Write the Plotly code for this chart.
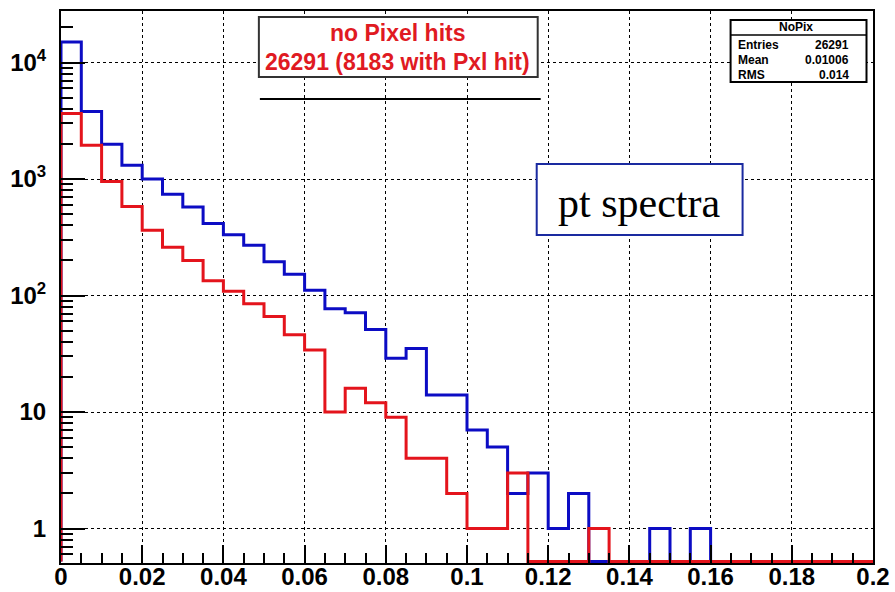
import math
import plotly.graph_objects as go

# ---------------- data ----------------
bin_width = 0.005
n_bins = 40
bin_edges = [round(i * bin_width, 3) for i in range(n_bins + 1)]

blue_counts = [15000, 3800, 1990, 1310, 1000, 740, 575, 415, 333, 270,
               195, 152, 111, 77, 71, 51, 29, 35, 14, 14,
               7, 5, 2, 3, 1, 2, 0, 0, 0, 1,
               0, 1, 0, 0, 0, 0, 0, 0, 0, 0]
red_counts = [3650, 1950, 950, 580, 363, 260, 200, 134, 109, 85,
              66, 46, 34, 10, 16, 12, 9, 4, 4, 2,
              1, 1, 3, 0, 0, 0, 1, 0, 0, 0,
              0, 0, 0, 0, 0, 0, 0, 0, 0, 0]

x_tick_vals = [0, 0.02, 0.04, 0.06, 0.08, 0.1, 0.12, 0.14, 0.16, 0.18, 0.2]
x_tick_text = ["0", "0.02", "0.04", "0.06", "0.08", "0.1", "0.12", "0.14", "0.16", "0.18", "0.2"]
y_tick_vals = [1, 10, 100, 1000, 10000]
y_tick_text = ["<b>1</b>", "<b>10</b>", "<b>10<sup>2</sup></b>", "<b>10<sup>3</sup></b>", "<b>10<sup>4</sup></b>"]

title_lines = ["no Pixel hits", "26291 (8183 with Pxl hit)"]
stats_name = "NoPix"
stats_rows = [("Entries", "26291"), ("Mean", "0.01006"), ("RMS", "0.014")]
label_text = "pt spectra"

# ---------------- layout geometry ----------------
W, H = 895, 592
L, R, T, B = 61, 873.5, 11, 563
y_log_range = [-0.296, 4.442]
zero_level = 10 ** (y_log_range[0] + 0.012)

def px(xp):
    return (xp - L) / (R - L)

def py(yp):
    return (B - yp) / (B - T)

def step_trace(counts, color):
    ys = [max(c, zero_level) for c in counts]
    xs = [bin_edges[0]] + bin_edges[:-1] + [bin_edges[-1]]
    yy = [zero_level] + ys + [ys[-1]]
    return go.Scatter(x=xs, y=yy, mode="lines", line=dict(color=color, width=3, shape="hv"),
                      showlegend=False, hoverinfo="skip")

fig = go.Figure()
fig.add_trace(step_trace(red_counts, "#e4141c"))
fig.add_trace(step_trace(blue_counts, "#0c0cc4"))
# redraw red above blue except the shared start so overlap order matches
fig.data = (fig.data[1], fig.data[0])

minor_y = [k * 10 ** n for n in range(-1, 5) for k in range(2, 10)
           if y_log_range[0] <= math.log10(k * 10 ** n) <= y_log_range[1]]

fig.update_layout(
    width=W, height=H,
    margin=dict(l=L, r=W - R, t=T, b=H - B),
    paper_bgcolor="white", plot_bgcolor="white",
    font=dict(family="Liberation Sans, Arial, sans-serif", color="black"),
)
fig.update_xaxes(
    range=[0, 0.2], showline=True, linecolor="black", linewidth=2, mirror=True, automargin=False,
    tickmode="array", tickvals=x_tick_vals, ticktext=x_tick_text,
    ticks="inside", ticklen=18, tickwidth=2, tickcolor="black",
    tickfont=dict(size=24, weight="bold", color="black"), ticklabelstandoff=-9,
    showgrid=True, gridcolor="black", griddash="dot", gridwidth=1,
    minor=dict(tickmode="linear", tick0=0, dtick=bin_width, ticks="inside", ticklen=10,
               tickwidth=2, tickcolor="black", showgrid=False),
    zeroline=False,
)
fig.update_yaxes(
    type="log", range=y_log_range, showline=True, linecolor="black", linewidth=2, mirror=True,
    automargin=False,
    tickmode="array", tickvals=y_tick_vals, ticktext=y_tick_text,
    ticks="inside", ticklen=24, tickwidth=2, tickcolor="black",
    tickfont=dict(size=24, color="black"), ticklabelstandoff=8,
    showgrid=True, gridcolor="black", griddash="dot", gridwidth=1,
    minor=dict(tickmode="array", tickvals=minor_y, ticks="inside", ticklen=12,
               tickwidth=2, tickcolor="black", showgrid=False),
    zeroline=False,
)

shapes = []
# title box
shapes.append(dict(type="rect", xref="paper", yref="paper", x0=px(259), x1=px(538), y0=py(77), y1=py(17),
                   line=dict(color="#333333", width=2), fillcolor="white", layer="above"))
shapes.append(dict(type="line", xref="paper", yref="paper", x0=px(260), x1=px(541), y0=py(99), y1=py(99),
                   line=dict(color="black", width=2), layer="above"))
# stats box
shapes.append(dict(type="rect", xref="paper", yref="paper", x0=px(731), x1=px(867), y0=py(82), y1=py(20),
                   line=dict(color="black", width=2), fillcolor="white", layer="above"))
shapes.append(dict(type="line", xref="paper", yref="paper", x0=px(731), x1=px(867), y0=py(35), y1=py(35),
                   line=dict(color="black", width=1.5), layer="above"))
# pt spectra box
shapes.append(dict(type="rect", xref="paper", yref="paper", x0=px(537), x1=px(743), y0=py(235), y1=py(164),
                   line=dict(color="#1a2aa0", width=2), fillcolor="white", layer="above"))
fig.update_layout(shapes=shapes)

ann = []
for i, line in enumerate(title_lines):
    ann.append(dict(xref="paper", yref="paper", x=px(398), y=py(33 + 29 * i), text="<b>" + line + "</b>",
                    showarrow=False, xanchor="center", yanchor="middle",
                    font=dict(size=23, color="#e01a22", family="Liberation Sans, Arial, sans-serif")))
ann.append(dict(xref="paper", yref="paper", x=px(796), y=py(27.5), text="<b>" + stats_name + "</b>",
                showarrow=False, xanchor="center", yanchor="middle",
                font=dict(size=12, color="black")))
for i, (k, v) in enumerate(stats_rows):
    yy = py(45 + 15 * i)
    ann.append(dict(xref="paper", yref="paper", x=px(736), y=yy, text="<b>" + k + "</b>",
                    showarrow=False, xanchor="left", yanchor="middle", font=dict(size=12, color="black")))
    ann.append(dict(xref="paper", yref="paper", x=px(851), y=yy, text="<b>" + v + "</b>",
                    showarrow=False, xanchor="right", yanchor="middle", font=dict(size=12, color="black")))
ann.append(dict(xref="paper", yref="paper", x=px(639), y=py(203), text=label_text,
                showarrow=False, xanchor="center", yanchor="middle",
                font=dict(size=42, color="black", family="Liberation Serif, Times New Roman, serif")))
fig.update_layout(annotations=ann)

fig.write_html("out.html")
